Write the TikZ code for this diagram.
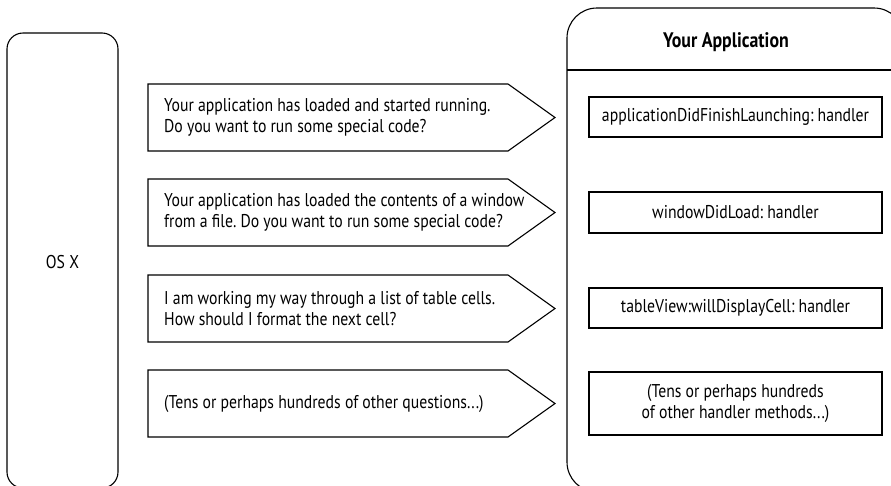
\documentclass[tikz,border=0pt]{standalone}
\usepackage{fontspec}
\setmainfont{PT Sans}[FakeStretch=0.85]
\usetikzlibrary{positioning}
\frenchspacing

\tikzset{
    framebox/.style={line width=1.1pt, rounded corners=#1},
    msgbox/.style={line width=1.1pt, line join=miter},
    msgtext/.style={anchor=west, align=left, inner sep=0pt, font=\fontsize{18.5}{21}\selectfont},
    handlerbox/.style={draw, line width=1.1pt, minimum width=293pt, align=center, inner sep=0pt, font=\fontsize{18.5}{21}\selectfont},
}

\begin{document}
\begin{tikzpicture}[x=1pt, y=-1pt]
    \useasboundingbox (0,0) rectangle (891,485);

    % OS X side
    \draw[framebox=16pt] (7,33) rectangle (118,488);
    \node[font=\fontsize{18.5}{21}\selectfont] (osx) at (62.5,262) {OS X};

    % application side
    \draw[framebox=30pt] (567,8) rectangle (904,492);
    \draw[line width=1.1pt] (567,70) -- (904,70);
    \node[font=\bfseries\fontsize{21}{24}\selectfont] (app) at (726,42) {Your Application};

    % questions
    \draw[msgbox] (148,84) -- (508,84) -- (555,117.5) -- (508,151) -- (148,151) -- cycle;
    \draw[msgbox] (148,179) -- (508,179) -- (555,212.5) -- (508,246) -- (148,246) -- cycle;
    \draw[msgbox] (148,275) -- (508,275) -- (555,308.5) -- (508,342) -- (148,342) -- cycle;
    \draw[msgbox] (148,370) -- (508,370) -- (555,403.5) -- (508,437) -- (148,437) -- cycle;

    \node[msgtext] (q1) at (164,117.5) {Your application has loaded and started running.\\Do you want to run some special code?};
    \node[msgtext] (q2) at (164,212.5) {Your application has loaded the contents of a window\\from a file. Do you want to run some special code?};
    \node[msgtext] (q3) at (164,308.5) {I am working my way through a list of table cells.\\How should I format the next cell?};
    \node[msgtext] (q4) at (164,403.5) {(Tens or perhaps hundreds of other questions...)};

    % handlers
    \node[handlerbox, minimum height=40pt] (h1) at (735.5,117) {applicationDidFinishLaunching: handler};
    \node[handlerbox, minimum height=41pt] (h2) at (735.5,212.5) {windowDidLoad: handler};
    \node[handlerbox, minimum height=40pt] (h3) at (735.5,308) {tableView:willDisplayCell: handler};
    \node[handlerbox, minimum height=63pt] (h4) at (735.5,403.5) {(Tens or perhaps hundreds\\of other handler methods...)};

\end{tikzpicture}
\end{document}
